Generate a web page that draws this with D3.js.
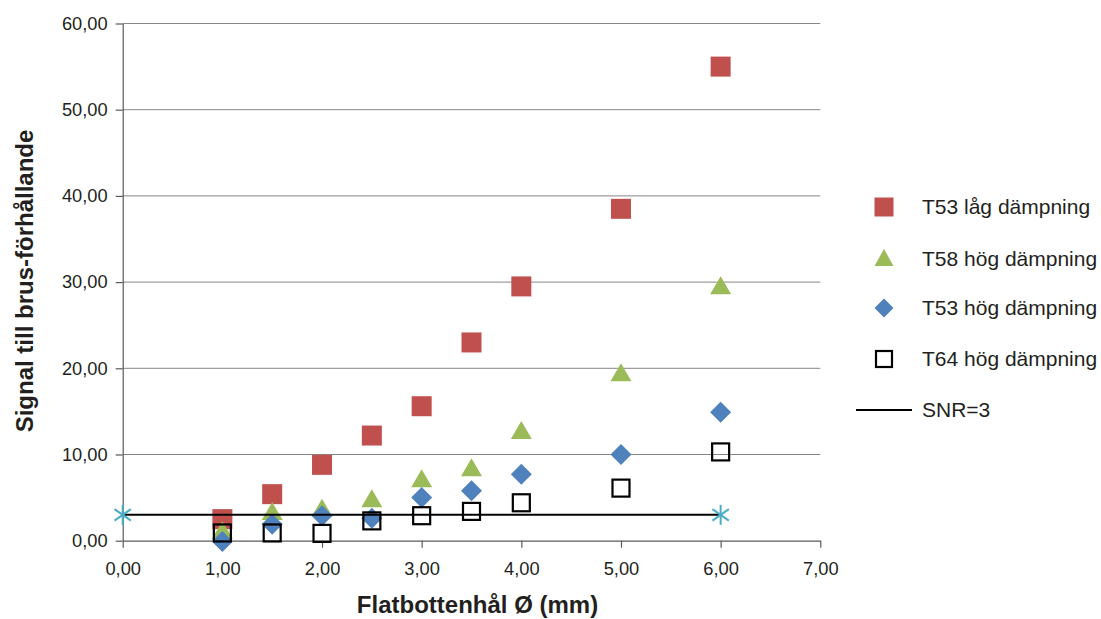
<!DOCTYPE html>
<html>
<head>
<meta charset="utf-8">
<script src="https://cdn.jsdelivr.net/npm/d3@7"></script>
<style>
  html, body { margin: 0; padding: 0; background: #fff; }
  svg { display: block; font-family: Arial, "Liberation Sans", sans-serif; }
</style>
</head>
<body>
<svg id="chart" width="1101" height="619"></svg>
<script>
// Hole diameters (mm)
const diameters = [1.0, 1.5, 2.0, 2.5, 3.0, 3.5, 4.0, 5.0, 6.0];

// Signal-to-noise ratio per probe
const t53Lag = [2.5, 5.4, 8.8, 12.2, 15.6, 23.0, 29.5, 38.5, 55.0];
const t58Hog = [1.0, 3.2, 3.6, 4.7, 7.0, 8.3, 12.6, 19.3, 29.4];
const t53Hog = [-0.1, 1.9, 2.9, 2.6, 5.0, 5.8, 7.7, 10.0, 14.9];
const t64Hog = [0.9, 0.9, 0.85, 2.3, 2.9, 3.4, 4.4, 6.1, 10.3];

// SNR threshold line
const snrX = [0, 6];
const snrY = [3, 3];

const xTicks = [0, 1, 2, 3, 4, 5, 6, 7];
const yTicks = [0, 10, 20, 30, 40, 50, 60];

const seriesNames = ["T53 låg dämpning", "T58 hög dämpning", "T53 hög dämpning", "T64 hög dämpning", "SNR=3"];

const fmt = v => v.toFixed(2).replace(".", ",");

const svg = d3.select("#chart");
const x = d3.scaleLinear().domain([0, 7]).range([122.7, 820.3]);
const y = d3.scaleLinear().domain([0, 60]).range([540.7, 23.5]);

// Horizontal gridlines
svg.append("g")
  .selectAll("line")
  .data(yTicks.filter(d => d > 0))
  .join("line")
  .attr("x1", x(0)).attr("x2", x(7))
  .attr("y1", d => y(d)).attr("y2", d => y(d))
  .attr("stroke", "#868686").attr("stroke-width", 1);

// Axes
const yAxis = d3.axisLeft(y).tickValues(yTicks).tickFormat(fmt).tickSize(7).tickSizeOuter(0).tickPadding(8);
const xAxis = d3.axisBottom(x).tickValues(xTicks).tickFormat(fmt).tickSize(7).tickSizeOuter(0).tickPadding(14);

const gy = svg.append("g").attr("transform", `translate(${x(0)},0)`).call(yAxis);
const gx = svg.append("g").attr("transform", `translate(0,${y(0)})`).call(xAxis);
[gx, gy].forEach(g => {
  g.selectAll("path, line").attr("stroke", "#5a5a5a").attr("stroke-width", 1.2);
  g.selectAll("text").attr("font-size", 18.3).attr("fill", "#231f20")
    .attr("font-family", "Arial, 'Liberation Sans', sans-serif");
});

// Axis titles
svg.append("text")
  .attr("transform", `translate(33,281) rotate(-90)`)
  .attr("text-anchor", "middle")
  .attr("font-size", 24).attr("font-weight", "bold").attr("fill", "#231f20")
  .text("Signal till brus-förhållande");
svg.append("text")
  .attr("x", 477.5).attr("y", 613)
  .attr("text-anchor", "middle")
  .attr("font-size", 24).attr("font-weight", "bold").attr("fill", "#231f20")
  .text("Flatbottenhål Ø (mm)");

// Marker shapes
const sq = 20;
const drawers = {
  redSquare: (g, cx, cy) => g.append("rect")
    .attr("x", cx - sq / 2).attr("y", cy - sq / 2).attr("width", sq).attr("height", sq)
    .attr("fill", "#c0504d"),
  greenTriangle: (g, cx, cy) => g.append("path")
    .attr("d", `M${cx},${cy - 11}L${cx + 10.5},${cy + 7}L${cx - 10.5},${cy + 7}Z`)
    .attr("fill", "#9bbb59"),
  blueDiamond: (g, cx, cy) => g.append("path")
    .attr("d", `M${cx},${cy - 10.5}L${cx + 10.5},${cy}L${cx},${cy + 10.5}L${cx - 10.5},${cy}Z`)
    .attr("fill", "#4f81bd"),
  openSquare: (g, cx, cy) => g.append("rect")
    .attr("x", cx - 8.5).attr("y", cy - 8.5).attr("width", 17).attr("height", 17)
    .attr("fill", "none").attr("stroke", "#000").attr("stroke-width", 2.2),
  asterisk: (g, cx, cy) => {
    const r = 10;
    [90, 35, -35].forEach(a => {
      const rad = a * Math.PI / 180;
      g.append("line")
        .attr("x1", cx - r * Math.cos(rad)).attr("y1", cy - r * Math.sin(rad))
        .attr("x2", cx + r * Math.cos(rad)).attr("y2", cy + r * Math.sin(rad))
        .attr("stroke", "#4bacc6").attr("stroke-width", 2);
    });
  }
};

const series = [
  { values: t53Lag, marker: "redSquare" },
  { values: t58Hog, marker: "greenTriangle" },
  { values: t53Hog, marker: "blueDiamond" },
  { values: t64Hog, marker: "openSquare" }
];

const plot = svg.append("g");
series.forEach(s => {
  const g = plot.append("g");
  s.values.forEach((v, i) => drawers[s.marker](g, x(diameters[i]), y(v)));
});

// SNR=3 line with end markers
const snrPts = snrX.map((d, i) => [d, snrY[i]]);
plot.append("path")
  .attr("d", d3.line().x(d => x(d[0])).y(d => y(d[1]))(snrPts))
  .attr("stroke", "#000").attr("stroke-width", 2).attr("fill", "none");
const gs = plot.append("g");
snrPts.forEach(p => drawers.asterisk(gs, x(p[0]), y(p[1])));

// Legend
const legendRows = [207, 259, 308, 359];
const legend = svg.append("g");
const markerKeys = ["redSquare", "greenTriangle", "blueDiamond", "openSquare"];
markerKeys.forEach((m, i) => {
  const cx = 884, cy = legendRows[i];
  if (m === "redSquare") {
    legend.append("rect").attr("x", cx - 9.5).attr("y", cy - 9.5).attr("width", 19).attr("height", 19).attr("fill", "#c0504d");
  } else if (m === "greenTriangle") {
    legend.append("path").attr("d", `M${cx},${cy - 10}L${cx + 9.5},${cy + 7}L${cx - 9.5},${cy + 7}Z`).attr("fill", "#9bbb59");
  } else if (m === "blueDiamond") {
    legend.append("path").attr("d", `M${cx},${cy - 9.5}L${cx + 9.5},${cy}L${cx},${cy + 9.5}L${cx - 9.5},${cy}Z`).attr("fill", "#4f81bd");
  } else {
    legend.append("rect").attr("x", cx - 8).attr("y", cy - 8).attr("width", 16).attr("height", 16)
      .attr("fill", "none").attr("stroke", "#000").attr("stroke-width", 2.2);
  }
  legend.append("text").attr("x", 922).attr("y", cy).attr("dy", "0.35em")
    .attr("font-size", 21).attr("fill", "#231f20").text(seriesNames[i]);
});
legend.append("line").attr("x1", 856).attr("x2", 912).attr("y1", 410).attr("y2", 410)
  .attr("stroke", "#000").attr("stroke-width", 2);
legend.append("text").attr("x", 922).attr("y", 410).attr("dy", "0.35em")
  .attr("font-size", 21).attr("fill", "#231f20").text(seriesNames[4]);
</script>
</body>
</html>
